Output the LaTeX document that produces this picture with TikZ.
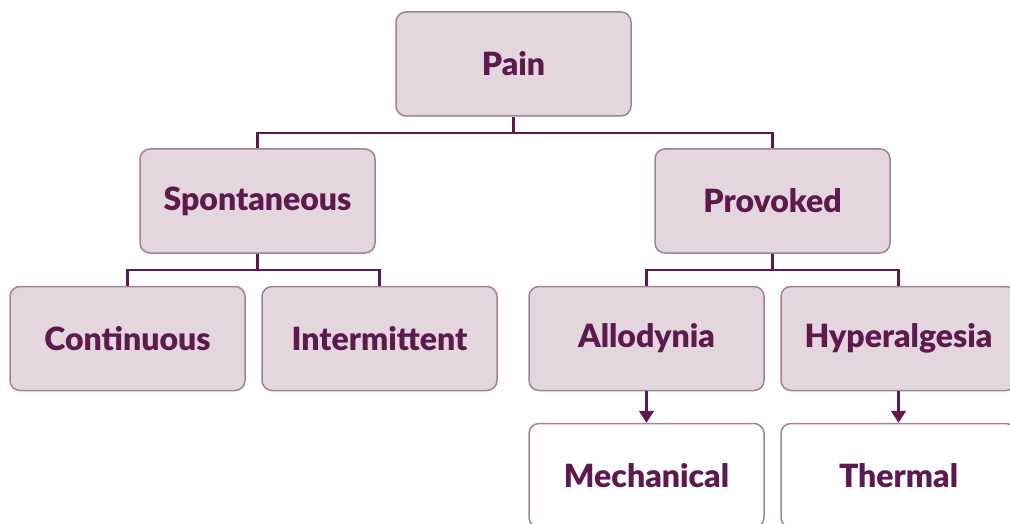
\documentclass[tikz,border=0pt]{standalone}
\usepackage{fontspec}
\setmainfont{Lato}[BoldFont={Lato Black}]
\usetikzlibrary{arrows.meta}
\definecolor{plum}{HTML}{5E1A4E}
\definecolor{plumedge}{HTML}{A4809A}
\definecolor{plumfill}{HTML}{E3D7DD}
\tikzset{
  box/.style={draw=plumedge,line width=1.5pt,rounded corners=10pt,fill=plumfill,
    minimum width=235pt,minimum height=104pt,text=plum,
    font=\fontsize{32}{36}\selectfont\bfseries},
  leaf/.style={box,fill=white},
  link/.style={draw=plum,line width=2.2pt},
}
\begin{document}
\begin{tikzpicture}[x=1pt,y=-1pt,>={Triangle[width=15pt,length=12pt]}]
  \useasboundingbox (0,0) rectangle (1010,524);

  % top level
  \node[box] (pain) at (513.5,64) {Pain};

  % second level
  \node[box] (spont) at (257.5,201) {Spontaneous};
  \node[box] (prov) at (772.5,201) {Provoked};

  % third level
  \node[box] (cont) at (127.5,338.5) {Continuous};
  \node[box] (inter) at (379.5,338.5) {Intermittent};
  \node[box] (allo) at (646.5,338.5) {Allodynia};
  \node[box] (hyper) at (898.5,338.5) {Hyperalgesia};

  % kinds of provoked pain
  \node[leaf] (mech) at (646.5,475.5) {Mechanical};
  \node[leaf] (therm) at (898.5,475.5) {Thermal};

  % tree connectors
  \draw[link] (pain.south) -- ++(0,16.5) -| (spont.north);
  \draw[link] (pain.south) -- ++(0,16.5) -| (prov.north);
  \draw[link] (spont.south) -- ++(0,16.5) -| (cont.north);
  \draw[link] (spont.south) -- ++(0,16.5) -| (inter.north);
  \draw[link] (prov.south) -- ++(0,16.5) -| (allo.north);
  \draw[link] (prov.south) -- ++(0,16.5) -| (hyper.north);

  \draw[link,->] (allo) -- (mech);
  \draw[link,->] (hyper) -- (therm);
\end{tikzpicture}
\end{document}
